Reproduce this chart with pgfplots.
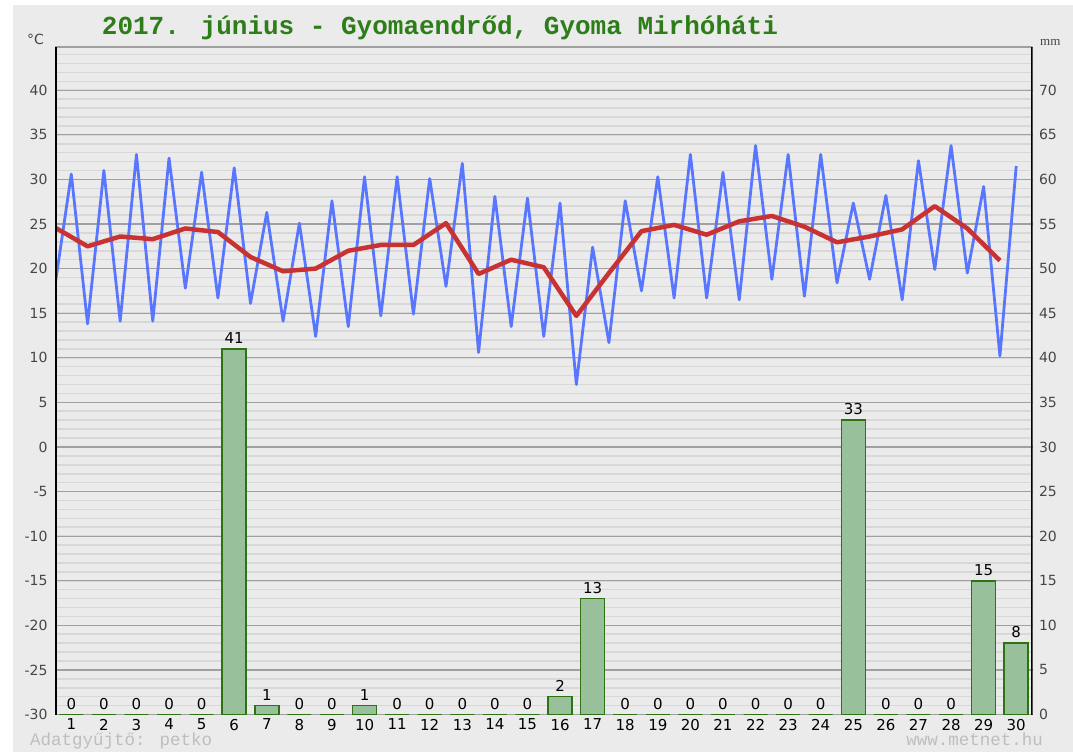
\documentclass[border=0pt]{standalone}
\usepackage{pgfplots}
\pgfplotsset{compat=1.18}
\usepackage{fontspec}
\setmainfont{DejaVu Sans}
\newfontfamily\monofont{Liberation Mono}
\newfontfamily\serifont{Liberation Serif}
\definecolor{bg}{RGB}{235,235,235}
\definecolor{mingrid}{RGB}{216,216,216}
\definecolor{majgrid}{RGB}{160,160,160}
\definecolor{tblue}{RGB}{88,118,255}
\definecolor{tred}{RGB}{200,50,50}
\definecolor{barfill}{RGB}{152,192,154}
\definecolor{bardraw}{RGB}{45,115,20}
\definecolor{titlegreen}{RGB}{45,125,25}
\definecolor{ticktext}{RGB}{70,70,70}
\definecolor{foot}{RGB}{190,190,190}

\pgfplotsset{
  base/.style={
    at={(55pt,37.5pt)}, anchor=south west, scale only axis,
    width=977.5pt, height=667.5pt,
    xmin=0.5, xmax=30.5,
    axis line style={draw=none},
    major tick length=0pt, minor tick length=0pt,
    tick style={draw=none},
    /pgf/number format/assume math mode=true,
  }
}

\pgfplotstableread{
x t
0.5 18.1
1 30.6
1.5 13.8
2 31.0
2.5 14.1
3 32.8
3.5 14.1
4 32.4
4.5 17.8
5 30.8
5.5 16.7
6 31.3
6.5 16.1
7 26.3
7.5 14.1
8 25.1
8.5 12.4
9 27.6
9.5 13.5
10 30.3
10.5 14.7
11 30.3
11.5 14.9
12 30.1
12.5 18.0
13 31.8
13.5 10.6
14 28.1
14.5 13.5
15 27.9
15.5 12.4
16 27.35
16.5 7.0
17 22.4
17.5 11.7
18 27.6
18.5 17.5
19 30.3
19.5 16.7
20 32.8
20.5 16.7
21 30.8
21.5 16.5
22 33.8
22.5 18.8
23 32.8
23.5 16.9
24 32.8
24.5 18.4
25 27.35
25.5 18.8
26 28.2
26.5 16.5
27 32.1
27.5 19.9
28 33.8
28.5 19.5
29 29.2
29.5 10.2
30 31.5
}\minmax

\pgfplotstableread{
x t
0.5 24.6
1.5 22.5
2.5 23.6
3.5 23.3
4.5 24.5
5.5 24.1
6.5 21.3
7.5 19.7
8.5 20.0
9.5 22.0
10.5 22.65
11.5 22.65
12.5 25.1
13.5 19.4
14.5 21.0
15.5 20.15
16.5 14.7
17.5 19.5
18.5 24.2
19.5 24.9
20.5 23.8
21.5 25.3
22.5 25.9
23.5 24.7
24.5 22.95
25.5 23.6
26.5 24.4
27.5 27.0
28.5 24.5
29.5 20.9
}\mean

\pgfplotstableread{
d mm
1 0
2 0
3 0
4 0
5 0
6 41
7 1
8 0
9 0
10 1
11 0
12 0
13 0
14 0
15 0
16 2
17 13
18 0
19 0
20 0
21 0
22 0
23 0
24 0
25 33
26 0
27 0
28 0
29 15
30 8
}\prec

\begin{document}
\begin{tikzpicture}[x=1pt,y=1pt]
\path[use as bounding box] (0,0) rectangle (1073,752);
\fill[white] (0,0) rectangle (1073,752);
\fill[bg] (13,0) rectangle (1073,747);

% temperature grid and left axis
\begin{axis}[base,
  ymin=-30, ymax=44.85,
  ytick={-30,-25,-20,-15,-10,-5,0,5,10,15,20,25,30,35,40},
  yticklabels={-30,-25,-20,-15,-10,-5,0,5,10,15,20,25,30,35,40},
  minor ytick={-30,-29,...,44},
  xtick=\empty,
  ymajorgrids, yminorgrids,
  major grid style={draw=majgrid, line width=1.2pt},
  minor grid style={draw=mingrid, line width=1.6pt},
  extra y ticks={0}, extra y tick labels={},
  extra y tick style={grid style={draw=black, line width=1.4pt}},
  yticklabel style={font=\fontsize{14}{16}\selectfont, text=ticktext, anchor=east, xshift=-4pt},
]
\end{axis}

% precipitation bars and right axis
\begin{axis}[base,
  ymin=0, ymax=74.85, clip=false,
  ytick={0,5,10,15,20,25,30,35,40,45,50,55,60,65,70},
  yticklabels={0,5,10,15,20,25,30,35,40,45,50,55,60,65,70},
  yticklabel pos=right,
  yticklabel style={font=\fontsize{14}{16}\selectfont, text=ticktext, anchor=west, xshift=3pt},
  xtick={1,2,...,30},
  xticklabels={1,2,3,4,5,6,7,8,9,10,11,12,13,14,15,16,17,18,19,20,21,22,23,24,25,26,27,28,29,30},
  xticklabel style={font=\fontsize{15}{17}\selectfont, text=black, anchor=north, yshift=-1pt},
]
\addplot[ybar, bar width=24pt, bar shift=0pt, fill=barfill, draw=bardraw, line width=1.6pt,
  nodes near coords,
  nodes near coords style={font=\fontsize{15}{17}\selectfont, text=black, anchor=south, yshift=1pt}]
  table[x=d, y=mm] {\prec};
\end{axis}

% temperature lines
\begin{axis}[base,
  ymin=-30, ymax=44.85,
  xtick=\empty, ytick=\empty,
]
\addplot[tblue, line width=2.8pt, line join=round, mark=none] table[x=x, y=t] {\minmax};
\addplot[tred, line width=4.5pt, line join=round, mark=none] table[x=x, y=t] {\mean};
\draw[majgrid, line width=1.2pt] (rel axis cs:0,1) -- (rel axis cs:1,1);
\draw[black, line width=3pt] (rel axis cs:0,0) -- (rel axis cs:0,1);
\draw[black, line width=3pt] (rel axis cs:1,0) -- (rel axis cs:1,1);
\end{axis}

\node[anchor=base, font=\monofont\bfseries\fontsize{26}{28}\selectfont, text=titlegreen] at (440,717) {2017. június - Gyomaendrőd, Gyoma Mirhóháti};
\node[anchor=base west, inner sep=0pt, font=\fontsize{14}{16}\selectfont, text=ticktext] at (27,707.5) {°C};
\node[anchor=base west, inner sep=0pt, font=\serifont\fontsize{13}{15}\selectfont, text=ticktext] at (1040,706) {mm};
\node[anchor=base west, inner sep=0pt, font=\monofont\fontsize{17.5}{19}\selectfont, text=foot] at (30,6) {Adatgyűjtő: petko};
\node[anchor=base east, inner sep=0pt, font=\monofont\fontsize{17.5}{19}\selectfont, text=foot] at (1043,6) {www.metnet.hu};
\end{tikzpicture}
\end{document}
